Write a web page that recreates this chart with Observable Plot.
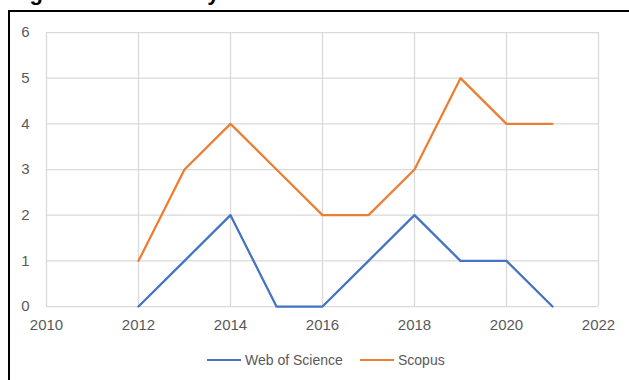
<!DOCTYPE html>
<html>
<head>
<meta charset="utf-8">
<script src="https://cdn.jsdelivr.net/npm/d3@7"></script>
<script src="https://cdn.jsdelivr.net/npm/@observablehq/plot@0.6"></script>
<style>
  html, body { margin: 0; padding: 0; background: #fff; }
  #wrap { position: relative; width: 629px; height: 380px; overflow: hidden; font-family: "Liberation Sans", Arial, sans-serif; }
  #title { position: absolute; left: 10px; top: -18px; font-size: 22px; line-height: 22px; font-weight: bold; color: #000; white-space: nowrap; }
  #frame { position: absolute; left: 8px; top: 10px; width: 700px; height: 400px; border-top: 2px solid #000; border-left: 2px solid #000; }
  #chart { position: absolute; left: 0; top: 0; }
  #legend { position: absolute; left: 0; top: 351px; width: 629px; height: 18px; font-size: 14px; color: #595959; }
  .item { position: absolute; top: 0; display: flex; align-items: center; height: 18px; }
  .sw { display: inline-block; width: 34px; height: 0; border-top: 2.5px solid; margin-right: 4px; }
</style>
</head>
<body>
<div id="wrap">
  <div id="title">Figure 2. Articles by Year</div>
  <div id="frame"></div>
  <div id="chart"></div>
  <div id="legend"></div>
</div>
<script>
const years = [2012, 2013, 2014, 2015, 2016, 2017, 2018, 2019, 2020, 2021];
const webOfScience = [0, 1, 2, 0, 0, 1, 2, 1, 1, 0];
const scopus = [1, 3, 4, 3, 2, 2, 3, 5, 4, 4];
const seriesNames = ["Web of Science", "Scopus"];
const seriesColors = ["#4472C4", "#ED7D31"];
const xTicks = [2010, 2012, 2014, 2016, 2018, 2020, 2022];
const yTicks = [0, 1, 2, 3, 4, 5, 6];

const data = [];
years.forEach((y, i) => {
  data.push({year: y, value: webOfScience[i], series: seriesNames[0]});
  data.push({year: y, value: scopus[i], series: seriesNames[1]});
});

const chart = Plot.plot({
  width: 629,
  height: 340,
  marginLeft: 46,
  marginRight: 31,
  marginTop: 32,
  marginBottom: 34,
  style: {fontFamily: "Liberation Sans, Arial, sans-serif", fontSize: "15px", color: "#595959", background: "transparent"},
  x: {domain: [2010, 2022], ticks: xTicks, tickFormat: "d", tickSize: 0, tickPadding: 13, label: null},
  y: {domain: [0, 6], ticks: yTicks, tickFormat: "d", tickSize: 0, tickPadding: 17, label: null},
  color: {domain: seriesNames, range: seriesColors},
  marks: [
    Plot.gridX(xTicks, {stroke: "#d9d9d9", strokeOpacity: 1, strokeWidth: 1.25}),
    Plot.gridY(yTicks, {stroke: "#d9d9d9", strokeOpacity: 1, strokeWidth: 1.25}),
    Plot.axisX({ticks: xTicks, tickFormat: "d", tickSize: 0, tickPadding: 13, fill: "#595959"}),
    Plot.axisY({ticks: yTicks, tickFormat: "d", tickSize: 0, tickPadding: 17, fill: "#595959"}),
    Plot.line(data, {x: "year", y: "value", stroke: "series", strokeWidth: 2.25, z: "series"})
  ]
});
document.getElementById("chart").appendChild(chart);

const legend = document.getElementById("legend");
const lefts = [207, 360];
seriesNames.forEach((name, i) => {
  const item = document.createElement("div");
  item.className = "item";
  item.style.left = lefts[i] + "px";
  const sw = document.createElement("span");
  sw.className = "sw";
  sw.style.borderTopColor = seriesColors[i];
  item.appendChild(sw);
  const t = document.createElement("span");
  t.textContent = name;
  item.appendChild(t);
  legend.appendChild(item);
});
</script>
</body>
</html>
